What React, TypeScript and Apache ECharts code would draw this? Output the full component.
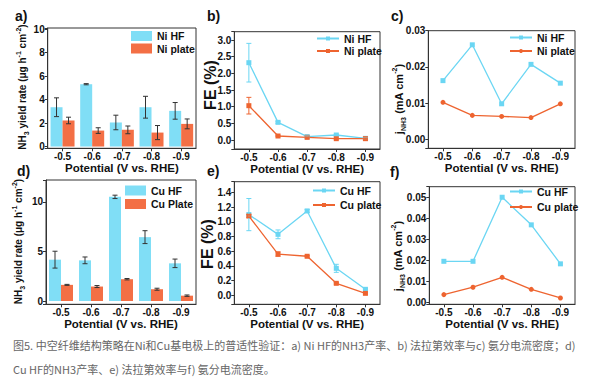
import React, { useEffect, useRef } from 'react';
import * as echarts from 'echarts';

// ---------- data ----------
const potentials = ['-0.5', '-0.6', '-0.7', '-0.8', '-0.9'];

const niHfYield = [3.35, 5.31, 2.05, 3.35, 3.04];
const niHfYieldErr = [0.8, 0.05, 0.62, 0.93, 0.71];
const niPlateYield = [2.22, 1.36, 1.42, 1.19, 1.93];
const niPlateYieldErr = [0.28, 0.24, 0.33, 0.6, 0.42];

const niHfFE = [2.32, 0.53, 0.1, 0.15, 0.05];
const niHfFEErr = [0.58, 0.03, 0.02, 0.02, 0.01];
const niPlateFE = [1.03, 0.12, 0.08, 0.04, 0.04];
const niPlateFEErr = [0.25, 0.02, 0.01, 0.01, 0.01];

const niHfJ = [0.0162, 0.0261, 0.0098, 0.0207, 0.0155];
const niPlateJ = [0.0102, 0.0066, 0.0063, 0.006, 0.0098];

const cuHfYield = [4.17, 4.1, 10.5, 6.44, 3.8];
const cuHfYieldErr = [0.85, 0.34, 0.17, 0.65, 0.43];
const cuPlateYield = [1.63, 1.46, 2.2, 1.19, 0.54];
const cuPlateYieldErr = [0.05, 0.1, 0.07, 0.1, 0.07];

const cuHfFE = [1.1, 0.83, 1.15, 0.365, 0.078];
const cuHfFEErr = [0.22, 0.06, 0.02, 0.055, 0.01];
const cuPlateFE = [1.08, 0.56, 0.53, 0.16, 0.023];
const cuPlateFEErr = [0.02, 0.03, 0.01, 0.01, 0.01];

const cuHfJ = [0.0196, 0.0196, 0.05, 0.0369, 0.0184];
const cuPlateJ = [0.0038, 0.0073, 0.012, 0.0063, 0.0022];

const xTitle = 'Potential (V vs. RHE)';
const captionLine1 = '图5. 中空纤维结构策略在Ni和Cu基电极上的普适性验证：a) Ni HF的NH3产率、b) 法拉第效率与c) 氨分电流密度；d)';
const captionLine2 = 'Cu HF的NH3产率、e) 法拉第效率与f) 氨分电流密度。';

// ---------- styles ----------
const FONT = '"Liberation Sans", Arial, Helvetica, sans-serif';
const CJK = '"Noto Sans CJK SC", sans-serif';
const BAR_CYAN = '#80DEF6';
const BAR_ORANGE = '#F36F45';
const LINE_CYAN = '#6BD6F3';
const LINE_ORANGE = '#EE6430';
const AXIS = '#333';
const INK = '#111';

const panels = [
  { frame: { left: 47.7, top: 28, width: 148.3, height: 120.3 }, min: -0.15, max: 10.1, split: 5, step: 2, dec: 0, nameGap: 14 },
  { frame: { left: 234.3, top: 31.7, width: 145.7, height: 117.3 }, min: -0.27, max: 3.25, split: 7, step: 0.5, dec: 1, nameGap: 14 },
  { frame: { left: 428.3, top: 30.7, width: 146.7, height: 117.6 }, min: -0.0025, max: 0.03, split: 3, step: 0.01, dec: 2, nameGap: 14 },
  { frame: { left: 46, top: 180, width: 150, height: 124.3 }, min: -0.33, max: 12.2, split: 3, step: 5, dec: 0, nameGap: 10 },
  { frame: { left: 234.3, top: 181.7, width: 145.7, height: 122.6 }, min: -0.127, max: 1.55, split: 8, step: 0.2, dec: 1, nameGap: 10 },
  { frame: { left: 429.3, top: 186.7, width: 145.7, height: 117.6 }, min: -0.0008, max: 0.055, split: 5, step: 0.01, dec: 2, nameGap: 10 },
];

function errorBars(idx: number, values: number[], errs: number[], offset: number, color: string) {
  return {
    type: 'custom',
    name: 'err' + idx + '_' + offset + color,
    xAxisIndex: idx,
    yAxisIndex: idx,
    z: 5,
    silent: true,
    data: values.map((v, i) => [i, v, errs[i]]),
    encode: { x: 0, y: 1 },
    renderItem: (params: any, api: any) => {
      const c = api.value(0);
      const v = api.value(1);
      const e = api.value(2);
      const top = api.coord([c, v + e]);
      const bot = api.coord([c, v - e]);
      const x = top[0] + offset;
      const w = 2.5;
      const style = { stroke: color, lineWidth: 1 };
      return {
        type: 'group',
        children: [
          { type: 'line', shape: { x1: x, y1: top[1], x2: x, y2: bot[1] }, style },
          { type: 'line', shape: { x1: x - w, y1: top[1], x2: x + w, y2: top[1] }, style },
          { type: 'line', shape: { x1: x - w, y1: bot[1], x2: x + w, y2: bot[1] }, style },
        ],
      };
    },
  };
}

function barSeries(idx: number, name: string, data: number[], color: string) {
  return {
    type: 'bar', name, xAxisIndex: idx, yAxisIndex: idx, data,
    barWidth: 12, barGap: '0%', itemStyle: { color },
  };
}

function lineSeries(idx: number, name: string, data: number[], color: string, symbol: string) {
  return {
    type: 'line', name, xAxisIndex: idx, yAxisIndex: idx, data,
    symbol, symbolSize: 5, lineStyle: { width: 1.3, color }, itemStyle: { color },
  };
}

const legendText = { fontFamily: FONT, fontWeight: 'bold', fontSize: 10.5, color: INK };

function legend(names: string[], left: number, top: number, gap: number, isBar: boolean) {
  return {
    data: names,
    left, top, orient: 'vertical', padding: 0,
    itemGap: gap,
    itemWidth: isBar ? 21 : 22,
    itemHeight: isBar ? 10 : 5,
    icon: isBar ? 'rect' : undefined,
    textStyle: legendText,
    formatter: (n: string) => n.slice(2),
    selectedMode: false,
  };
}

function yRich(size: number) {
  const base = { fontFamily: FONT, fontWeight: 'bold', fill: INK };
  return {
    n: { ...base, fontSize: size, lineHeight: size + 5, verticalAlign: 'middle' },
    s: { ...base, fontSize: Math.round(size * 0.68), verticalAlign: 'bottom' },
    p: { ...base, fontSize: Math.round(size * 0.68), verticalAlign: 'top' },
  };
}

function rotText(x: number, y: number, text: string, size: number) {
  return {
    type: 'text', x, y, rotation: Math.PI / 2,
    style: { text, rich: yRich(size), align: 'center', verticalAlign: 'middle', fontFamily: FONT, fontWeight: 'bold', fontSize: size, fill: INK },
  };
}

function plainText(x: number, y: number, text: string, size: number, rotation = 0) {
  return {
    type: 'text', x, y, rotation,
    style: { text, fontFamily: FONT, fontWeight: 'bold', fontSize: size, fill: INK, align: rotation ? 'center' : 'left', verticalAlign: 'middle' },
  };
}

const yieldTitle = '{n|NH}{s|3}{n| yield rate (μg h}{p|-1}{n| cm}{p|-2}{n|)}';
const jTitle = '{n|j}{s|NH3}{n| (mA cm}{p|-2}{n|)}';

function buildOption() {
  const grid = panels.map((p) => ({
    ...p.frame, show: true, borderColor: AXIS, borderWidth: 1, backgroundColor: 'transparent', containLabel: false,
  }));
  const xAxis = panels.map((p, i) => ({
    type: 'category', gridIndex: i, data: potentials, boundaryGap: true,
    axisLine: { show: true, onZero: false, lineStyle: { color: AXIS, width: 1 } },
    axisTick: { show: true, inside: false, length: 3, alignWithLabel: true, lineStyle: { color: AXIS } },
    axisLabel: { interval: 0, margin: 3, fontFamily: FONT, fontWeight: 'bold', fontSize: 10, color: INK },
    splitLine: { show: false },
    name: xTitle, nameLocation: 'middle', nameGap: p.nameGap,
    nameTextStyle: { fontFamily: FONT, fontWeight: 'bold', fontSize: 11.5, color: INK },
  }));
  const yAxis = panels.map((p, i) => ({
    type: 'value', gridIndex: i, min: p.min, max: p.max, splitNumber: p.split,
    axisLine: { show: true, lineStyle: { color: AXIS, width: 1 } },
    axisTick: { show: true, inside: false, length: 3, lineStyle: { color: AXIS } },
    splitLine: { show: false },
    axisLabel: {
      margin: 3, fontFamily: FONT, fontWeight: 'bold', fontSize: 10, color: INK,
      showMinLabel: true, showMaxLabel: true,
      formatter: (v: number) => {
        const r = v / p.step;
        if (v < -1e-9 || Math.abs(r - Math.round(r)) > 1e-6) return '';
        return Math.abs(v).toFixed(p.dec);
      },
    },
  }));

  const series: any[] = [
    // a
    barSeries(0, 'a:Ni HF', niHfYield, BAR_CYAN),
    barSeries(0, 'a:Ni plate', niPlateYield, BAR_ORANGE),
    errorBars(0, niHfYield, niHfYieldErr, -6, '#333'),
    errorBars(0, niPlateYield, niPlateYieldErr, 6, '#333'),
    // b
    lineSeries(1, 'b:Ni HF', niHfFE, LINE_CYAN, 'rect'),
    lineSeries(1, 'b:Ni plate', niPlateFE, LINE_ORANGE, 'rect'),
    errorBars(1, niHfFE, niHfFEErr, 0, LINE_CYAN),
    errorBars(1, niPlateFE, niPlateFEErr, 0, LINE_ORANGE),
    // c
    lineSeries(2, 'c:Ni HF', niHfJ, LINE_CYAN, 'rect'),
    lineSeries(2, 'c:Ni plate', niPlateJ, LINE_ORANGE, 'circle'),
    // d
    barSeries(3, 'd:Cu HF', cuHfYield, BAR_CYAN),
    barSeries(3, 'd:Cu Plate', cuPlateYield, BAR_ORANGE),
    errorBars(3, cuHfYield, cuHfYieldErr, -6, '#333'),
    errorBars(3, cuPlateYield, cuPlateYieldErr, 6, '#333'),
    // e
    lineSeries(4, 'e:Cu HF', cuHfFE, LINE_CYAN, 'rect'),
    lineSeries(4, 'e:Cu plate', cuPlateFE, LINE_ORANGE, 'rect'),
    errorBars(4, cuHfFE, cuHfFEErr, 0, LINE_CYAN),
    errorBars(4, cuPlateFE, cuPlateFEErr, 0, LINE_ORANGE),
    // f
    lineSeries(5, 'f:Cu HF', cuHfJ, LINE_CYAN, 'rect'),
    lineSeries(5, 'f:Cu plate', cuPlateJ, LINE_ORANGE, 'circle'),
  ];

  const legends = [
    legend(['a:Ni HF', 'a:Ni plate'], 131, 30.5, 1.5, true),
    legend(['b:Ni HF', 'b:Ni plate'], 316, 33, 1.5, false),
    legend(['c:Ni HF', 'c:Ni plate'], 509, 32, 2.5, false),
    legend(['d:Cu HF', 'd:Cu Plate'], 125, 185, 2.5, true),
    legend(['e:Cu HF', 'e:Cu plate'], 312, 185, 3.5, false),
    legend(['f:Cu HF', 'f:Cu plate'], 509, 186, 4.5, false),
  ];

  const graphic = [
    plainText(15, 16, 'a)', 14),
    plainText(207, 16, 'b)', 14),
    plainText(391, 16, 'c)', 14),
    plainText(17, 171, 'd)', 14),
    plainText(207, 171, 'e)', 14),
    plainText(390, 172, 'f)', 14),
    rotText(22, 87, yieldTitle, 10),
    plainText(210.5, 85, 'FE (%)', 16, Math.PI / 2),
    rotText(398.5, 99, jTitle, 11),
    rotText(18.7, 241.5, yieldTitle, 10),
    plainText(207.5, 244, 'FE (%)', 16, Math.PI / 2),
    rotText(398, 256, jTitle, 11),
    {
      type: 'text', x: 13, y: 345,
      style: { text: captionLine1, fontFamily: CJK, fontSize: 11, fill: '#666', align: 'left', verticalAlign: 'middle' },
    },
    {
      type: 'text', x: 13, y: 369,
      style: { text: captionLine2, fontFamily: CJK, fontSize: 11, fill: '#666', align: 'left', verticalAlign: 'middle' },
    },
  ];

  return {
    animation: false,
    backgroundColor: '#ffffff',
    grid, xAxis, yAxis, series, legend: legends, graphic,
  };
}

export default function App() {
  const ref = useRef<HTMLDivElement>(null);
  useEffect(() => {
    if (!ref.current) return;
    const chart = echarts.init(ref.current, undefined, { renderer: 'svg' });
    chart.setOption(buildOption() as any);
    return () => chart.dispose();
  }, []);
  return (
    <div
      ref={ref}
      style={{ position: 'fixed', left: 0, top: 0, width: 598, height: 387, background: '#fff' }}
    />
  );
}
